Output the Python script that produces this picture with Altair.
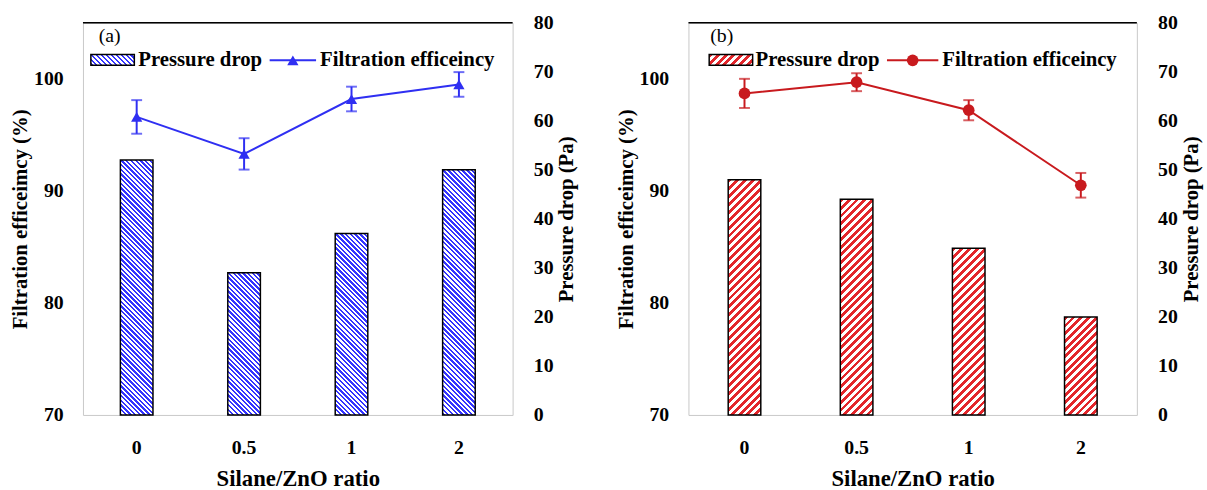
import math
import altair as alt
import pandas as pd

# ---------------- data ----------------
ratios = ["0", "0.5", "1", "2"]

a_pressure = [52, 29, 37, 50]          # Pa
a_eff = [96.6, 93.3, 98.2, 99.5]       # %
a_err = [1.5, 1.4, 1.1, 1.1]

b_pressure = [48, 44, 34, 20]
b_eff = [98.7, 99.7, 97.2, 90.5]
b_err = [1.3, 0.8, 0.9, 1.1]

left_ticks = [70, 80, 90, 100]
right_ticks = [0, 10, 20, 30, 40, 50, 60, 70, 80]

# ---------------- styling ----------------
FONT = "Liberation Serif"
H = 397
WA, WB = 435, 454
BAR_W = 33
P_MAX = 80
EFF_DOM = [70, 105]
LEG_FS = 21


def hatch(w, h, color, direction, period, frac):
    """Linear gradient (bounding-box units) that draws 45 degree stripes."""
    t = (w + h) / (w * w + h * h)
    if direction == "down":          # "\\" stripes
        x1, y1, x2, y2 = 0, 1, t * w, 1 - t * h
    else:                            # "/" stripes
        x1, y1, x2, y2 = 0, 0, t * w, t * h
    n = max(1, round((w + h) / (period * math.sqrt(2))))
    stops = []
    for i in range(n):
        a, b, c = i / n, (i + frac) / n, (i + 1) / n
        stops += [
            {"offset": a, "color": color},
            {"offset": b, "color": color},
            {"offset": b, "color": "white"},
            {"offset": c, "color": "white"},
        ]
    return {"gradient": "linear", "x1": x1, "y1": y1, "x2": x2, "y2": y2, "stops": stops}


def one(text):
    return pd.DataFrame({"t": [text]})


def text_mark(text, x, y, bold=True, size=LEG_FS):
    return alt.Chart(one(text)).mark_text(
        align="left", baseline="middle", font=FONT, fontSize=size,
        fontWeight="bold" if bold else "normal", color="black"
    ).encode(x=alt.value(x), y=alt.value(y), text="t:N")


def panel(tag, pressures, effs, errs, bar_color, line_color, direction, period, frac,
          shape, msize, W, leg):
    df = pd.DataFrame({"ratio": ratios, "pressure": pressures, "eff": effs, "err": errs})

    xenc = alt.X(
        "ratio:N", sort=ratios,
        scale=alt.Scale(paddingInner=0, paddingOuter=0),
        axis=alt.Axis(title="Silane/ZnO ratio", labelAngle=0, ticks=False, domain=False,
                      grid=False, labelPadding=23, titlePadding=10, titleFontSize=23),
    )
    right_axis = alt.Axis(orient="right", values=right_ticks, title="Pressure drop (Pa)",
                          titleAngle=270, titleBaseline="top", ticks=False, domain=False,
                          grid=False, labelPadding=21, titlePadding=3)
    left_axis = alt.Axis(orient="left", values=left_ticks, title="Filtration efficeimcy (%)",
                         ticks=False, domain=False, grid=False, labelPadding=20,
                         titlePadding=3)
    eff_scale = alt.Scale(domain=EFF_DOM, nice=False, zero=False)

    grads = [hatch(BAR_W, p / P_MAX * H, bar_color, direction, period, frac) for p in pressures]
    cond = [{"test": f"datum.ratio === '{r}'", "value": g} for r, g in zip(ratios[:-1], grads[:-1])]

    bars = alt.Chart(df).mark_bar(size=BAR_W, stroke="black", strokeWidth=1.5).encode(
        x=xenc,
        y=alt.Y("pressure:Q", scale=alt.Scale(domain=[0, P_MAX], nice=False), axis=right_axis),
        fill=alt.FillValue(condition=cond, value=grads[-1]),
    )

    base = alt.Chart(df).transform_calculate(
        lo="datum.eff - datum.err", hi="datum.eff + datum.err"
    ).encode(x=xenc)
    line = base.mark_line(color=line_color, strokeWidth=2).encode(
        y=alt.Y("eff:Q", scale=eff_scale, axis=left_axis))
    pts = base.mark_point(shape=shape, filled=True, size=msize, color=line_color, opacity=1).encode(
        y=alt.Y("eff:Q", scale=eff_scale, axis=left_axis))
    rule = base.mark_rule(color=line_color, strokeWidth=2).encode(
        y=alt.Y("lo:Q", scale=eff_scale, axis=left_axis), y2="hi:Q")
    cap_lo = base.mark_tick(color=line_color, size=11, thickness=2).encode(
        y=alt.Y("lo:Q", scale=eff_scale, axis=left_axis))
    cap_hi = base.mark_tick(color=line_color, size=11, thickness=2).encode(
        y=alt.Y("hi:Q", scale=eff_scale, axis=left_axis))
    effs_layer = alt.layer(line, rule, cap_lo, cap_hi, pts)

    top_rule = alt.Chart(one("top")).mark_rule(color="black", strokeWidth=1.5).encode(
        x=alt.value(0), x2=alt.value(W), y=alt.value(0))

    sw = leg["swatch"]
    swatch = alt.Chart(one("sw")).mark_rect(
        fill=hatch(sw[1] - sw[0], sw[3] - sw[2], bar_color, direction, period, frac),
        stroke="black", strokeWidth=1.5,
    ).encode(x=alt.value(sw[0]), x2=alt.value(sw[1]), y=alt.value(sw[2]), y2=alt.value(sw[3]))
    ln = leg["line"]
    leg_line = alt.Chart(one("ln")).mark_rule(color=line_color, strokeWidth=2).encode(
        x=alt.value(ln[0]), x2=alt.value(ln[1]), y=alt.value(ln[2]))
    leg_pt = alt.Chart(one("pt")).mark_point(shape=shape, filled=True, size=msize,
                                               color=line_color, opacity=1).encode(
        x=alt.value((ln[0] + ln[1]) / 2), y=alt.value(ln[2]))

    texts = [
        text_mark(tag, leg["tag"][0], leg["tag"][1], bold=False, size=20),
        text_mark("Pressure drop", leg["t1"][0], leg["t1"][1]),
        text_mark("Filtration efficeincy", leg["t2"][0], leg["t2"][1]),
    ]

    return alt.layer(bars, effs_layer, top_rule, swatch, leg_line, leg_pt, *texts).resolve_scale(
        y="independent"
    ).properties(width=W, height=H)


leg_a = {"tag": (16, 13), "swatch": (8, 52, 32, 43), "line": (189, 236, 38),
         "t1": (56, 38), "t2": (240, 38)}
leg_b = {"tag": (22, 13), "swatch": (21, 65, 32, 43), "line": (201, 253, 38),
         "t1": (68, 38), "t2": (257, 38)}

pa = panel("(a)", a_pressure, a_eff, a_err, "#3434FF", "#2F2FF2", "down", 3.4, 0.5,
           "triangle-up", 130, WA, leg_a)
pb = panel("(b)", b_pressure, b_eff, b_err, "#E3262B", "#C81A1E", "up", 5.6, 0.5,
           "circle", 140, WB, leg_b)

chart = alt.hconcat(pa, pb, spacing=37).configure(
    font=FONT, padding={"left": 9, "top": 9, "right": 5, "bottom": 5}
).configure_view(stroke="#c8c8c8", strokeWidth=1).configure_axis(
    labelFont=FONT, titleFont=FONT, labelFontSize=20, titleFontSize=21,
    labelFontWeight="bold", titleFontWeight="bold", labelColor="black", titleColor="black",
)

chart.save("out.html", embed_options={"renderer": "svg", "actions": False})
